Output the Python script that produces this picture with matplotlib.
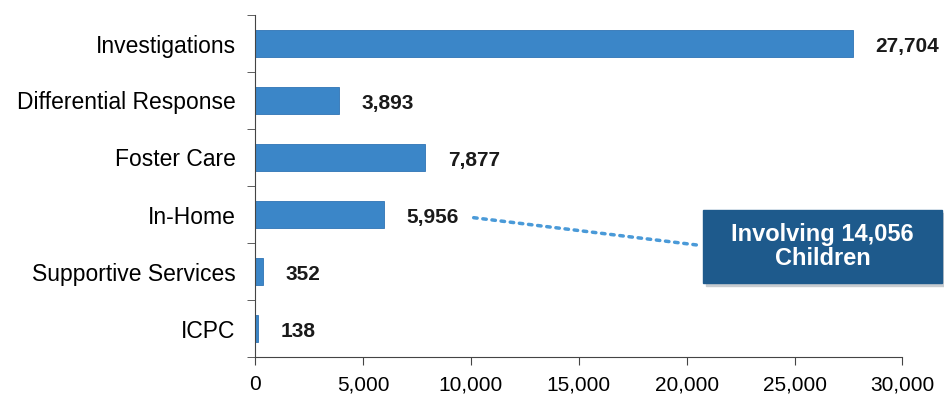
import matplotlib.pyplot as plt
from matplotlib.patches import Rectangle

plt.rcParams['font.family'] = ['Liberation Sans', 'DejaVu Sans']

categories = ['Investigations', 'Differential Response', 'Foster Care',
              'In-Home', 'Supportive Services', 'ICPC']
values = [27704, 3893, 7877, 5956, 352, 138]
xticks = [0, 5000, 10000, 15000, 20000, 25000, 30000]

fig = plt.figure(figsize=(9.45, 4.0), dpi=100)
ax = fig.add_axes([0.27, 0.1075, 0.685, 0.855])

ypos = list(range(len(categories)))
ax.barh(ypos, values, height=0.47, color='#3b86c8', edgecolor='#2f74b5', linewidth=0.6)
ax.set_ylim(len(categories) - 0.5, -0.5)
ax.set_xlim(0, 30000)

ax.set_yticks(ypos)
ax.set_yticklabels(categories, fontsize=16.5)
ax.tick_params(axis='y', length=0, pad=14)
ax.set_yticks([i + 0.5 for i in range(-1, len(categories))], minor=True)
ax.tick_params(axis='y', which='minor', length=6, color='#444444')

ax.set_xticks(xticks)
ax.set_xticklabels(['{:,}'.format(t) for t in xticks], fontsize=15)
ax.tick_params(axis='x', length=6, color='#444444', pad=7)

for s in ['top', 'right']:
    ax.spines[s].set_visible(False)
ax.spines['left'].set_color('#444444')
ax.spines['bottom'].set_color('#444444')

for y, v in zip(ypos, values):
    ax.text(v + 1050, y + 0.05, '{:,}'.format(v), va='center', ha='left',
            fontsize=15, fontweight='bold', color='#1a1a1a')

# callout
ax.annotate('', xy=(20800, 3.55), xytext=(10000, 3.05),
            arrowprops=dict(arrowstyle='-', linestyle=':', color='#4a9ad8', lw=2.5))
box_x, box_y = 703 / 945, 1 - 283 / 400
box_w, box_h = (942 - 703) / 945, (283 - 210) / 400
fig.patches.append(Rectangle((box_x + 0.003, box_y - 0.008), box_w, box_h,
                             transform=fig.transFigure, color='#c8ccd0', zorder=2))
fig.patches.append(Rectangle((box_x, box_y), box_w, box_h,
                             transform=fig.transFigure, color='#1e5a8c', zorder=3))
fig.text(box_x + box_w / 2, box_y + box_h / 2, 'Involving 14,056\nChildren',
         ha='center', va='center', color='white', fontsize=17, fontweight='bold',
         linespacing=1.1, zorder=4)

fig.savefig('out.png', dpi=100)
